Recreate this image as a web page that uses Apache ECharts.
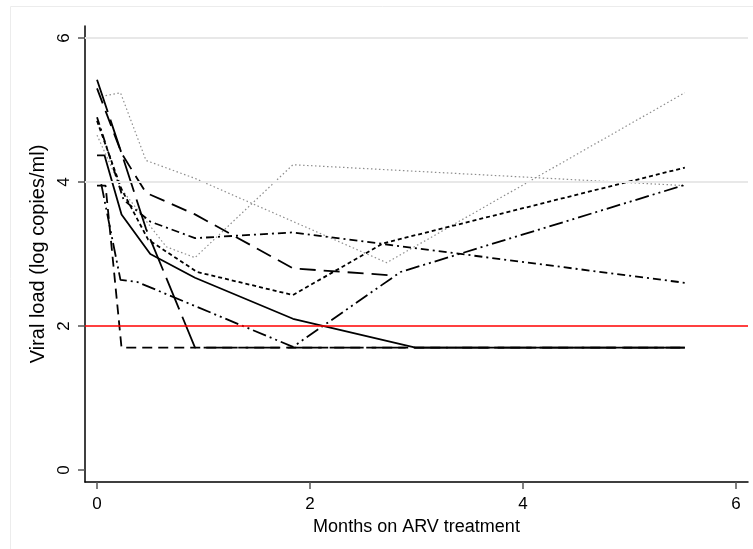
<!DOCTYPE html>
<html>
<head>
<meta charset="utf-8">
<script src="https://cdn.jsdelivr.net/npm/echarts@6/dist/echarts.min.js"></script>
<style>
  html, body { margin: 0; padding: 0; background: #fff; }
  #chart { width: 753px; height: 549px; }
</style>
</head>
<body>
<div id="chart"></div>
<script>
const xTicks = [0, 2, 4, 6]
const yTicks = [0, 2, 4, 6]
const gridLevels = [4, 6]
const threshold = 2

// [months on ARV, log10 viral load] per patient
const grayDotA = [[0.08, 5.2], [0.22, 5.24], [0.46, 4.3], [0.92, 4.05], [2.72, 2.88], [5.52, 5.24]]
const grayDotB = [[0.0, 4.65], [0.23, 3.9], [0.65, 3.1], [0.92, 2.95], [1.84, 4.24], [5.52, 3.95]]
const blackDot = [[0.0, 4.85], [0.23, 3.9], [0.48, 3.2], [0.94, 2.75], [1.84, 2.43], [2.69, 3.15], [5.52, 4.2]]
const longDashDot = [[0.04, 3.97], [0.22, 2.64], [0.38, 2.61], [1.84, 1.71], [2.85, 2.75], [5.52, 3.96]]
const dashDot = [[0.0, 4.9], [0.25, 3.75], [0.5, 3.45], [0.92, 3.22], [1.84, 3.3], [5.52, 2.6]]
const longDashSteep = [[0.0, 5.42], [0.23, 4.4], [0.46, 3.35], [0.92, 1.7], [5.52, 1.7]]
const longDashSlow = [[0.0, 5.3], [0.23, 4.4], [0.46, 3.85], [0.92, 3.55], [1.84, 2.8], [2.8, 2.7]]
const solid = [[0.0, 4.37], [0.07, 4.37], [0.23, 3.55], [0.5, 3.0], [0.92, 2.67], [1.84, 2.1], [2.99, 1.7], [5.52, 1.7]]
const dashed = [[0.0, 3.95], [0.08, 3.95], [0.23, 1.7], [5.52, 1.7]]

const font = 'Arial, "Liberation Sans", sans-serif'

const mk = (data, type, color, width) => ({
  type: 'line',
  data: data,
  symbol: 'none',
  silent: true,
  z: 3,
  lineStyle: { color: color || '#000', width: width || 1.8, type: type }
})

const chart = echarts.init(document.getElementById('chart'))
chart.setOption({
  animation: false,
  graphic: [{
    type: 'rect',
    shape: { x: 10.5, y: 6.5, width: 800, height: 600 },
    style: { fill: 'none', stroke: '#ececec', lineWidth: 1 },
    silent: true
  }],
  grid: { left: 85, right: 5, top: 26, bottom: 67 },
  xAxis: {
    type: 'value',
    min: -0.113,
    max: 6.113,
    name: 'Months on ARV treatment',
    nameLocation: 'middle',
    nameGap: 30,
    nameTextStyle: { color: '#000', fontSize: 18, fontFamily: font },
    axisLine: { onZero: false, lineStyle: { color: '#000', width: 1.5 } },
    axisTick: { customValues: xTicks, length: 7, lineStyle: { color: '#555', width: 1.5 } },
    axisLabel: { customValues: xTicks, margin: 14, color: '#000', fontSize: 17, fontFamily: font },
    splitLine: { show: false }
  },
  yAxis: {
    type: 'value',
    min: -0.167,
    max: 6.167,
    name: 'Viral load (log copies/ml)',
    nameLocation: 'middle',
    nameGap: 36,
    nameTextStyle: { color: '#000', fontSize: 20, fontFamily: font },
    axisLine: { show: true, onZero: false, lineStyle: { color: '#000', width: 1.5 } },
    axisTick: { show: true, customValues: yTicks, length: 7, lineStyle: { color: '#555', width: 1.5 } },
    axisLabel: { customValues: yTicks, rotate: 90, margin: 12, color: '#000', fontSize: 17, fontFamily: font },
    splitLine: { show: false }
  },
  series: [
    {
      type: 'line',
      data: [],
      z: 1,
      markLine: {
        silent: true,
        symbol: 'none',
        label: { show: false },
        lineStyle: { color: '#e8e8e8', width: 2, type: 'solid' },
        data: gridLevels.map(v => ({ yAxis: v }))
      }
    },
    {
      type: 'line',
      data: [],
      z: 4,
      markLine: {
        silent: true,
        symbol: 'none',
        label: { show: false },
        lineStyle: { color: '#ff0000', width: 1.6, type: 'solid' },
        data: [{ yAxis: threshold }]
      }
    },
    mk(grayDotA, [1.5, 2.5], '#8c8c8c', 1.2),
    mk(grayDotB, [1.5, 2.5], '#8c8c8c', 1.2),
    mk(blackDot, [4, 3]),
    mk(longDashDot, [14, 4, 2, 4, 2, 4]),
    mk(dashDot, [8, 4, 2, 4]),
    mk(longDashSteep, [34, 8]),
    mk(longDashSlow, [16, 8]),
    mk(solid, 'solid'),
    mk(dashed, [10, 6])
  ]
})
</script>
</body>
</html>
